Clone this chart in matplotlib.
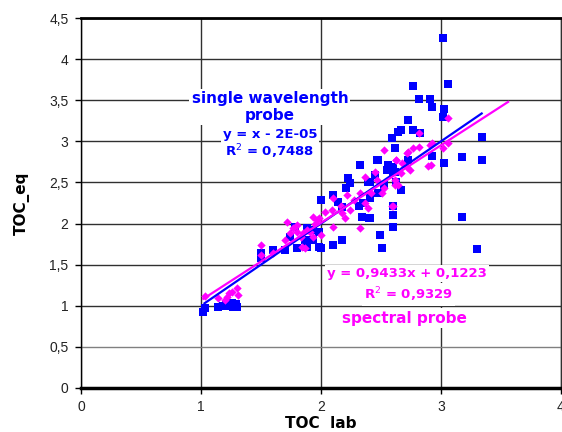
import matplotlib

matplotlib.use("Agg")
import matplotlib.pyplot as plt
from matplotlib.ticker import FuncFormatter
import numpy as np

# single wavelength probe (blue squares)
single_x = [1.02, 1.03, 1.14, 1.18, 1.21, 1.24, 1.27, 1.29, 1.30, 1.26,
            1.50, 1.50, 1.60, 1.70, 1.80, 1.88, 1.87, 1.93, 1.78, 1.88, 1.98, 1.98, 1.74,
            2.00, 2.10, 2.14, 2.18, 2.33, 2.23, 2.24, 2.21, 2.32, 2.34, 2.41, 2.48, 2.56,
            2.59, 2.62, 2.64, 2.39, 2.41, 2.48, 2.49, 2.51, 2.60, 2.60, 2.00, 2.10, 2.18,
            2.55, 1.93, 2.47, 2.45, 2.41, 2.63, 2.67, 2.53, 2.35, 2.60, 2.40,
            3.02, 2.77, 3.06, 2.82, 2.91, 2.93, 3.03, 3.02, 2.73, 2.67, 2.77, 2.83,
            3.34, 3.18, 3.34, 3.03, 2.93, 2.73, 3.18, 3.30, 2.60, 2.62, 2.60]
single_y = [0.93, 0.97, 0.98, 1.00, 1.01, 1.00, 0.99, 1.02, 0.99, 1.03,
            1.64, 1.58, 1.68, 1.68, 1.70, 1.72, 1.80, 1.80, 1.96, 1.95, 1.90, 1.72, 1.84,
            2.29, 2.35, 2.26, 2.20, 2.71, 2.55, 2.49, 2.43, 2.22, 2.08, 2.07, 2.77, 2.71,
            3.04, 2.92, 3.12, 2.50, 2.31, 2.37, 1.86, 1.70, 2.10, 1.96, 1.70, 1.74, 1.80,
            2.65, 1.92, 2.77, 2.59, 2.51, 2.51, 2.41, 2.47, 2.25, 2.22, 2.07,
            4.26, 3.67, 3.70, 3.52, 3.52, 3.42, 3.39, 3.30, 3.26, 3.14, 3.14, 3.10,
            3.05, 2.81, 2.77, 2.74, 2.82, 2.77, 2.08, 1.69, 2.63, 2.63, 2.69]

# spectral probe (magenta diamonds)
spectral_x = [1.03, 1.14, 1.22, 1.20, 1.26, 1.30, 1.31, 1.23,
              1.50, 1.50, 1.60, 1.72, 1.70, 1.74, 1.80, 1.83, 1.87, 1.85, 1.91, 1.95,
              1.97, 1.93, 1.77, 1.80, 1.84, 2.00, 1.98, 2.03, 2.09, 2.10, 2.10, 2.18,
              2.20, 2.17, 2.33, 2.33, 2.37, 2.39, 2.42, 2.47, 2.51, 2.53, 2.59, 2.62,
              2.64, 2.53, 2.63, 2.72, 2.72, 2.45, 2.24, 2.28, 2.22, 2.37, 2.67, 1.88, 1.93,
              2.60, 2.62, 2.73, 2.77, 2.82, 2.91, 2.93, 3.02, 3.06, 2.92, 2.89, 2.68,
              2.74, 2.63, 3.06, 2.82]
spectral_y = [1.12, 1.09, 1.11, 1.07, 1.17, 1.22, 1.13, 1.16,
              1.74, 1.62, 1.64, 2.02, 1.80, 1.88, 1.90, 1.84, 1.70, 1.88, 1.90, 2.00,
              2.04, 1.84, 1.95, 1.98, 1.72, 1.86, 2.07, 2.14, 2.17, 2.31, 1.96, 2.13,
              2.07, 2.22, 2.37, 1.95, 2.25, 2.19, 2.37, 2.53, 2.37, 2.43, 2.22, 2.53,
              2.47, 2.90, 2.77, 2.86, 2.69, 2.63, 2.17, 2.29, 2.35, 2.57, 2.62, 1.92, 2.08,
              2.22, 2.47, 2.87, 2.92, 2.93, 2.96, 2.98, 2.92, 2.98, 2.71, 2.70, 2.74,
              2.65, 2.77, 3.28, 3.10]

# trend lines as printed on the chart
single_fit = (1.0, -2e-05)
single_fit_x = [1.03, 3.34]
spectral_fit = (0.9433, 0.1223)
spectral_fit_x = [1.02, 3.56]

x_ticks = [0, 1, 2, 3, 4]
y_ticks = [0, 0.5, 1, 1.5, 2, 2.5, 3, 3.5, 4, 4.5]

BLUE = "#0000ff"
MAGENTA = "#ff00ff"
LABEL_FONT = ["Liberation Sans", "DejaVu Sans"]
NOTE_FONT = ["DejaVu Sans"]


def comma_format(value, pos):
    text = ("%g" % value).replace(".", ",")
    return text


def main():
    figure = plt.figure(figsize=(5.62, 4.32), dpi=100)
    axes = figure.add_axes([0.144, 0.102, 0.854, 0.856])

    axes.set_xlim(0, 4)
    axes.set_ylim(0, 4.5)
    axes.set_xticks(x_ticks)
    axes.set_yticks(y_ticks)
    axes.xaxis.set_major_formatter(FuncFormatter(comma_format))
    axes.yaxis.set_major_formatter(FuncFormatter(comma_format))
    axes.tick_params(direction="out", length=4, width=1, labelsize=10,
                     labelcolor="#222222", pad=5)
    for label in axes.get_xticklabels() + axes.get_yticklabels():
        label.set_fontfamily(LABEL_FONT)

    axes.grid(True, color="#303030", linewidth=1.0, zorder=0)
    axes.set_axisbelow(True)
    axes.get_ygridlines()[1].set_color("#808080")

    axes.spines["top"].set_linewidth(2.0)
    axes.spines["bottom"].set_linewidth(2.5)
    axes.spines["left"].set_linewidth(1.0)
    axes.spines["right"].set_linewidth(1.0)
    axes.spines["right"].set_color("#303030")

    axes.scatter(single_x, single_y, marker="s", s=26, color=BLUE, linewidths=0, zorder=3)
    axes.scatter(spectral_x, spectral_y, marker="D", s=18, color=MAGENTA, linewidths=0, zorder=4)

    fit_x = np.array(single_fit_x)
    axes.plot(fit_x, single_fit[0] * fit_x + single_fit[1], color=BLUE, linewidth=1.6, zorder=5)
    fit_x = np.array(spectral_fit_x)
    axes.plot(fit_x, spectral_fit[0] * fit_x + spectral_fit[1], color=MAGENTA, linewidth=1.6, zorder=5)

    box = dict(facecolor="white", edgecolor="none", pad=1.5)
    note = dict(ha="center", va="center", fontweight="bold", family=NOTE_FONT, zorder=6, bbox=box)
    axes.text(1.575, 3.42, "single wavelength\nprobe", color=BLUE, fontsize=11,
              linespacing=1.15, **note)
    axes.text(1.575, 3.09, "y = x - 2E-05", color=BLUE, fontsize=9.5, **note)
    axes.text(1.575, 2.87, "R$^{2}$ = 0,7488", color=BLUE, fontsize=9.5, **note)

    axes.text(2.72, 1.39, "y = 0,9433x + 0,1223", color=MAGENTA, fontsize=9.5, **note)
    axes.text(2.73, 1.14, "R$^{2}$ = 0,9329", color=MAGENTA, fontsize=9.5, **note)
    axes.text(2.70, 0.85, "spectral probe", color=MAGENTA, fontsize=11, **note)

    axes.set_xlabel("TOC  lab", fontsize=11, fontweight="bold", family=NOTE_FONT, labelpad=1)
    axes.set_ylabel("TOC_eq", fontsize=11, fontweight="bold", family=NOTE_FONT, labelpad=14)

    figure.savefig("out.png", dpi=100)
    plt.close(figure)


if __name__ == "__main__":
    main()
